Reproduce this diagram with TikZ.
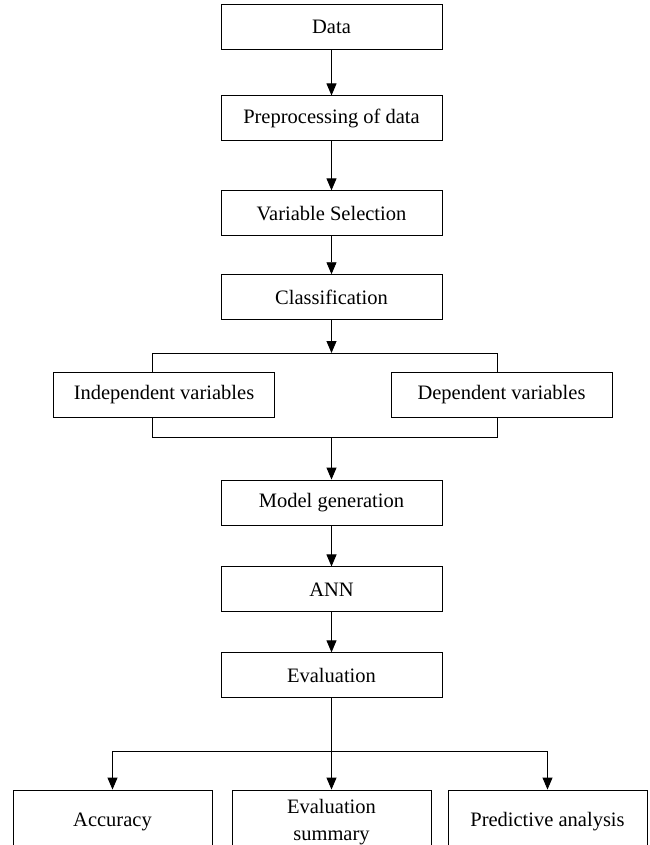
\documentclass[tikz,border=0pt]{standalone}
\usepackage{fontspec}
\setmainfont{Liberation Serif}
\usetikzlibrary{positioning,arrows.meta}

\begin{document}
\begin{tikzpicture}
	[x=1pt,y=-1pt,
	 stage/.style={rectangle,draw,line width=0.9pt,minimum width=221pt,minimum height=45pt,inner sep=0pt,font=\fontsize{20.5}{27}\selectfont},
	 leaf/.style={stage,minimum width=199pt,minimum height=64pt,align=center},
	 flow/.style={-{Triangle[width=10pt,length=12pt]},line width=0.9pt},
	 bar/.style={line width=0.9pt}]
	\useasboundingbox (0,0) rectangle (649,845);
	\node[stage] (data)  at (331.5,26.5) {Data};
	\node[stage] (prep)  [below=46pt of data] {Preprocessing of data};
	\node[stage] (vsel)  [below=49pt of prep] {Variable Selection};
	\node[stage] (class) [below=38pt of vsel] {Classification};
	\node[stage] (indep) at (164,395)   {Independent variables};
	\node[stage] (dep)   at (501.5,395) {Dependent variables};
	\node[stage] (model) at (331.5,502.5) {Model generation};
	\node[stage] (ann)   [below=41pt of model] {ANN};
	\node[stage] (eval)  [below=40pt of ann] {Evaluation};
	\node[leaf]  (acc)   at (112.5,822) {Accuracy};
	\node[leaf]  (summ)  at (331.5,822) {Evaluation\\summary};
	\node[leaf]  (pred)  at (547.5,822) {Predictive analysis};
	% bracket round the variables
	\coordinate (lt) at (152,353);
	\coordinate (rt) at (497,353);
	\coordinate (lb) at (152,437);
	\coordinate (rb) at (497,437);
	\coordinate (fork) at (331.5,751);
	\draw [flow] (data.south) -- (prep.north);
	\draw [flow] (prep.south) -- (vsel.north);
	\draw [flow] (vsel.south) -- (class.north);
	\draw [flow] (class.south) -- (class.south |- lt);
	\draw [bar] (lt |- indep.north) -- (lt) -- (rt) -- (rt |- dep.north);
	\draw [bar] (lb |- indep.south) -- (lb) -- (rb) -- (rb |- dep.south);
	\draw [flow] (model.north |- lb) -- (model.north);
	\draw [flow] (model.south) -- (ann.north);
	\draw [flow] (ann.south) -- (eval.north);
	\draw [flow] (eval.south) -- (summ.north);
	\draw [bar] (acc.north |- fork) -- (pred.north |- fork);
	\draw [flow] (acc.north |- fork) -- (acc.north);
	\draw [flow] (pred.north |- fork) -- (pred.north);
\end{tikzpicture}
\end{document}
